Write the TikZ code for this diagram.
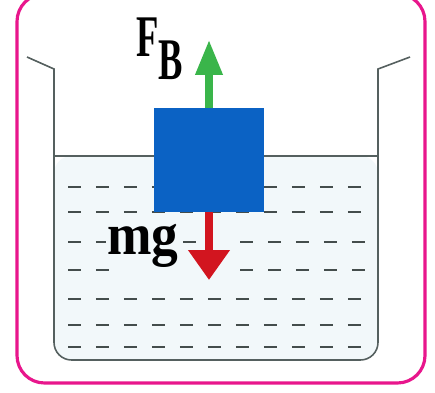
\documentclass[tikz,border=0pt]{standalone}
\usepackage{fontspec}
\setmainfont{Liberation Serif}
\usetikzlibrary{arrows.meta}
\definecolor{mFrame}{HTML}{E8168C}
\definecolor{mBlock}{HTML}{0B62C4}
\definecolor{mGreen}{HTML}{3AB54A}
\definecolor{mRed}{HTML}{D2151F}
\definecolor{mWall}{HTML}{55605F}
\definecolor{mWater}{HTML}{F2F8FA}
\tikzset{
  frame/.style={draw=mFrame, line width=1.8pt, rounded corners=0.55cm},
  beaker/.style={draw=mWall, line width=0.9pt},
  wdash/.style={mWall!80!black, line width=1.3pt, dash pattern=on 0.26cm off 0.3cm},
  block/.style={fill=mBlock, minimum width=2.2cm, minimum height=2.08cm, inner sep=0pt},
  force/.style={line width=4pt},
  flabel/.style={font=\bfseries\fontsize{32}{32}\selectfont, inner sep=0pt},
}

\begin{document}
\begin{tikzpicture}[x=0.02cm, y=-0.02cm]
    \useasboundingbox (0,0) rectangle (435,392);
    \draw[frame, fill=white] (17,-6) rectangle (425,383);
    % beaker and water
    \fill[mWater, rounded corners=10pt] (54,156) -- (54,360) -- (378,360) -- (378,156) -- cycle;
    \draw[beaker] (27,57) -- (54,69) -- (54,300) {[rounded corners=10pt] -- (54,360) -- (378,360) -- (378,300)}
      -- (378,69) -- (410,57);
    \draw[beaker] (54,156) -- (378,156);
    \foreach \y in {187,212,299,325,347}
      \draw[wdash] (68,\y) -- (365,\y);
    \draw[wdash] (68,242) -- (110,242) (240,242) -- (365,242);
    \draw[mWall!80!black, line width=1.3pt] (183,242) -- (196,242);
    \draw[wdash] (68,270) -- (110,270) (240,270) -- (365,270);
    % block and forces
    \fill[white] (187,0) rectangle (260,108);
    \node[block] (blk) at (209,160) {};
    \coordinate (up) at (209,40);
    \coordinate (down) at (209,280);
    \draw[force, mGreen, -{Triangle[width=0.52cm, length=0.7cm]}] (blk.north) -- (up);
    \draw[force, mRed, line width=5pt, -{Triangle[width=0.8cm, length=0.6cm]}] (blk.south) -- (down);
    \node[flabel] (fb) at (160,49) {\scalebox{0.65}[1.05]{F$_{\textbf{B}}$}};
    \node[flabel, fill=mWater, inner sep=1pt] (mg) at (143,246) {\scalebox{0.95}[1.05]{mg}};
\end{tikzpicture}
\end{document}
